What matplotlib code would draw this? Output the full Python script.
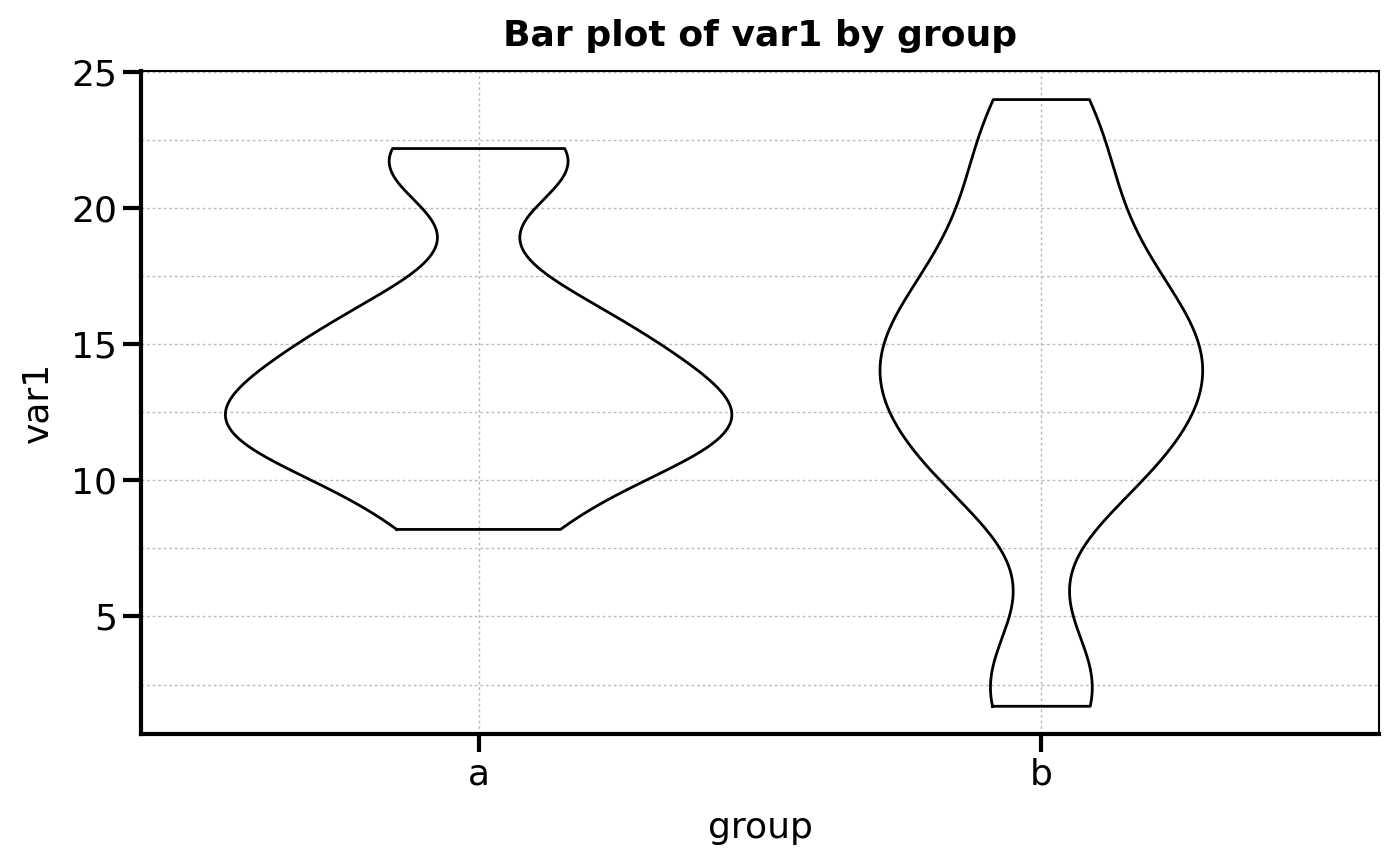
import numpy as np
import matplotlib
matplotlib.use("Agg")
import matplotlib.pyplot as plt

groups = ["a", "b"]
var1_a = [8.2, 10.4, 10.9, 11.7, 12.3, 12.8, 13.4, 14.5, 15.3, 16.6, 21.3, 22.2]
var1_b = [1.7, 3.0, 9.4, 10.5, 11.6, 12.6, 13.5, 14.2, 14.9, 15.8, 16.8, 18.0, 19.8, 21.8, 24.0]

BW_ADJUST = 0.62
HALF_WIDTH = 0.45


def kde(values, grid, adjust=1.0):
    v = np.asarray(values, dtype=float)
    bw = v.std(ddof=1) * len(v) ** (-1 / 5) * adjust
    z = (grid[:, None] - v[None, :]) / bw
    return np.exp(-0.5 * z ** 2).sum(axis=1) / (len(v) * bw * np.sqrt(2 * np.pi))


fig = plt.figure(figsize=(14, 8.66), dpi=100)
ax = fig.add_axes([0.1007, 0.1524, 0.8843, 0.7656])

# violins cut at the data range, widths share one density scale
curves = []
for vals in (var1_a, var1_b):
    y = np.linspace(min(vals), max(vals), 400)
    curves.append((y, kde(vals, y, BW_ADJUST)))
scale = HALF_WIDTH / max(d.max() for _, d in curves)

for i, (y, d) in enumerate(curves):
    w = d * scale
    xs = np.concatenate([i - w, (i + w)[::-1], [i - w[0]]])
    ys = np.concatenate([y, y[::-1], [y[0]]])
    ax.plot(xs, ys, color="black", lw=2, zorder=3)

ax.set_xlim(-0.6, 1.6)
ax.set_ylim(0.68, 25.05)
ax.set_xticks(range(len(groups)))
ax.set_xticklabels(groups)
ax.set_yticks([5, 10, 15, 20, 25])
ax.set_yticks([2.5, 7.5, 12.5, 17.5, 22.5], minor=True)

ax.grid(True, which="both", color="#bbbbbb", linestyle=(0, (2, 2)), lw=1)
ax.set_axisbelow(True)
ax.tick_params(axis="both", which="major", labelsize=26, length=13, width=3, pad=4)
ax.tick_params(axis="y", which="minor", length=0)

for side in ("left", "bottom"):
    ax.spines[side].set_linewidth(3)
for side in ("top", "right"):
    ax.spines[side].set_linewidth(1.5)

ax.set_xlabel("group", fontsize=26, labelpad=14)
ax.set_ylabel("var1", fontsize=26, labelpad=12)
ax.set_title("Bar plot of var1 by group", fontsize=26, fontweight="bold", pad=18)

fig.savefig("out.png", dpi=100)
